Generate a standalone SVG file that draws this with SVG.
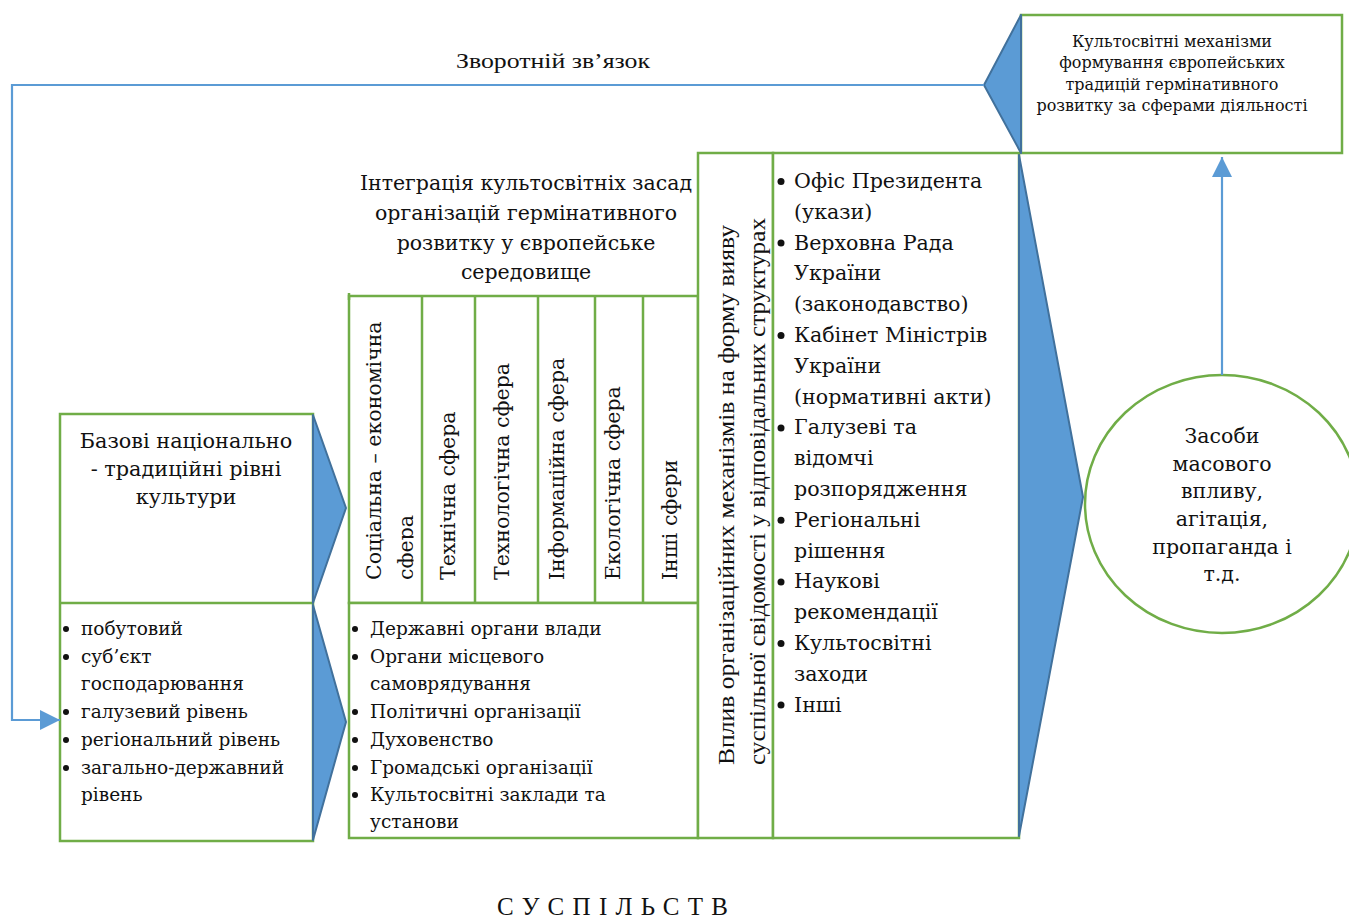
<svg xmlns="http://www.w3.org/2000/svg" width="1349" height="922" viewBox="0 0 1349 922">
<style>
.box{fill:#fff;stroke:#70ad47;stroke-width:2.5}
.ln{fill:none;stroke:#70ad47;stroke-width:2.5}
.barrow{fill:#5b9bd5;stroke:#41719c;stroke-width:2;stroke-linejoin:round}
.fb{fill:none;stroke:#5b9bd5;stroke-width:2.2}
.t{font-family:"DejaVu Serif","Liberation Serif",serif;fill:#111}
.c{font-family:"Liberation Serif",serif;fill:#111}
.mid{text-anchor:middle}
.b{fill:#111}
</style>
<defs>
<marker id="ah2" viewBox="0 0 10 10" refX="10" refY="5" markerWidth="27" markerHeight="20" markerUnits="userSpaceOnUse" orient="auto">
<path d="M0,0 L10,5 L0,10 z" fill="#5b9bd5"/>
</marker>
<clipPath id="col1"><rect x="350" y="296" width="63.5" height="306"/></clipPath>
</defs>
<rect width="1349" height="922" fill="#fff"/>

<g id="node-top-right">
<rect class="box" x="1021" y="15" width="321" height="138"/>
<text class="t mid" font-size="16" x="1172" y="47">Культосвітні механізми</text>
<text class="t mid" font-size="16" x="1172" y="68">формування європейських</text>
<text class="t mid" font-size="16" x="1172" y="90">традицій гермінативного</text>
<text class="t mid" font-size="16" x="1172" y="111">розвитку за сферами діяльності</text>
</g>

<g id="node-left">
<rect class="box" x="60" y="414" width="253" height="427"/>
<line class="ln" x1="60" y1="603" x2="313" y2="603"/>
<text class="t mid" font-size="20.8" x="186" y="448">Базові національно</text>
<text class="t mid" font-size="20.8" x="186" y="476">- традиційні рівні</text>
<text class="t mid" font-size="20.8" x="186" y="504">культури</text>
<g font-size="18.5" class="t">
<circle class="b" cx="66" cy="629" r="3"/><text x="81" y="635">побутовий</text>
<circle class="b" cx="66" cy="657" r="3"/><text x="81" y="663">суб’єкт</text>
<text x="81" y="690">господарювання</text>
<circle class="b" cx="66" cy="712" r="3"/><text x="81" y="718">галузевий рівень</text>
<circle class="b" cx="66" cy="740" r="3"/><text x="81" y="746">регіональний рівень</text>
<circle class="b" cx="66" cy="768" r="3"/><text x="81" y="774">загально-державний</text>
<text x="81" y="801">рівень</text>
</g>
</g>

<g id="node-middle">
<text class="t mid" font-size="20.5" x="526" y="190">Інтеграція культосвітніх засад</text>
<text class="t mid" font-size="20.5" x="526" y="220">організацій гермінативного</text>
<text class="t mid" font-size="20.5" x="526" y="250">розвитку у європейське</text>
<text class="t mid" font-size="20.5" x="526" y="279">середовище</text>
<rect class="box" x="349" y="296" width="349" height="307"/>
<line class="ln" x1="349" y1="293" x2="349" y2="300"/>
<line class="ln" x1="422" y1="296" x2="422" y2="603"/>
<line class="ln" x1="475" y1="296" x2="475" y2="603"/>
<line class="ln" x1="538" y1="296" x2="538" y2="603"/>
<line class="ln" x1="595" y1="296" x2="595" y2="603"/>
<line class="ln" x1="643" y1="296" x2="643" y2="603"/>
<g class="t" font-size="20.5">
<text transform="translate(381,580) rotate(-90)">Соціальна – економічна</text>
<g clip-path="url(#col1)"><text transform="translate(413,580) rotate(-90)">сфера</text></g>
<text transform="translate(455,580) rotate(-90)">Технічна сфера</text>
<text transform="translate(509,580) rotate(-90)">Технологічна сфера</text>
<text transform="translate(564,580) rotate(-90)">Інформаційна сфера</text>
<text transform="translate(620,580) rotate(-90)">Екологічна сфера</text>
<text transform="translate(677,580) rotate(-90)">Інші сфери</text>
</g>
<rect class="box" x="349" y="603" width="349" height="235"/>
<g font-size="18.5" class="t">
<circle class="b" cx="355" cy="629" r="3"/><text x="370" y="635">Державні органи влади</text>
<circle class="b" cx="355" cy="657" r="3"/><text x="370" y="663">Органи місцевого</text>
<text x="370" y="690">самоврядування</text>
<circle class="b" cx="355" cy="712" r="3"/><text x="370" y="718">Політичні організації</text>
<circle class="b" cx="355" cy="740" r="3"/><text x="370" y="746">Духовенство</text>
<circle class="b" cx="355" cy="768" r="3"/><text x="370" y="774">Громадські організації</text>
<circle class="b" cx="355" cy="795" r="3"/><text x="370" y="801">Культосвітні заклади та</text>
<text x="370" y="828">установи</text>
</g>
</g>

<g id="node-vplyv">
<rect class="box" x="698" y="153" width="75" height="685"/>
<text class="c" font-size="24" transform="translate(734,765) rotate(-90)" textLength="540" lengthAdjust="spacingAndGlyphs">Вплив організаційних механізмів на форму вияву</text>
<text class="c" font-size="24" transform="translate(765,765) rotate(-90)" textLength="547" lengthAdjust="spacingAndGlyphs">суспільної свідомості у відповідальних структурах</text>
</g>

<g id="node-right-list">
<rect class="box" x="773" y="153" width="246" height="685"/>
<g class="t" font-size="20.6">
<circle class="b" cx="781" cy="181.5" r="3.5"/><text x="794" y="188">Офіс Президента</text>
<text x="794" y="218.8">(укази)</text>
<circle class="b" cx="781" cy="243" r="3.5"/><text x="794" y="249.6">Верховна Рада</text>
<text x="794" y="280.4">України</text>
<text x="794" y="311.2">(законодавство)</text>
<circle class="b" cx="781" cy="335.5" r="3.5"/><text x="794" y="342">Кабінет Міністрів</text>
<text x="794" y="372.8">України</text>
<text x="794" y="403.6">(нормативні акти)</text>
<circle class="b" cx="781" cy="428" r="3.5"/><text x="794" y="434.4">Галузеві та</text>
<text x="794" y="465.2">відомчі</text>
<text x="794" y="496">розпорядження</text>
<circle class="b" cx="781" cy="520.3" r="3.5"/><text x="794" y="526.8">Регіональні</text>
<text x="794" y="557.6">рішення</text>
<circle class="b" cx="781" cy="582" r="3.5"/><text x="794" y="588.4">Наукові</text>
<text x="794" y="619.2">рекомендації</text>
<circle class="b" cx="781" cy="643.5" r="3.5"/><text x="794" y="650">Культосвітні</text>
<text x="794" y="680.8">заходи</text>
<circle class="b" cx="781" cy="705" r="3.5"/><text x="794" y="711.6">Інші</text>
</g>
</g>

<g id="node-circle">
<ellipse cx="1222" cy="504" rx="137" ry="129" fill="#fff" stroke="#70ad47" stroke-width="2.5"/>
<g class="t mid" font-size="20.5">
<text x="1222" y="443">Засоби</text>
<text x="1222" y="471">масового</text>
<text x="1222" y="498">впливу,</text>
<text x="1222" y="526">агітація,</text>
<text x="1222" y="554">пропаганда і</text>
<text x="1222" y="581">т.д.</text>
</g>
</g>

<g id="connectors">
<polygon class="barrow" points="313,415 346,508 313,603"/>
<polygon class="barrow" points="313,605 346,722 313,840"/>
<polygon class="barrow" points="1019,155 1083,497 1019,836"/>
<polygon class="barrow" points="1021,15 984,85 1021,153"/>
<polyline class="fb" points="984,85 12,85 12,720 60,720" marker-end="url(#ah2)"/>
<line class="fb" x1="1222" y1="375" x2="1222" y2="157" marker-end="url(#ah2)"/>
<text class="c mid" font-size="22" x="553" y="68" textLength="194" lengthAdjust="spacingAndGlyphs">Зворотній зв’язок</text>
</g>

<text class="c" font-size="25" x="497" y="915" textLength="231" lengthAdjust="spacing">СУСПІЛЬСТВ</text>
</svg>
